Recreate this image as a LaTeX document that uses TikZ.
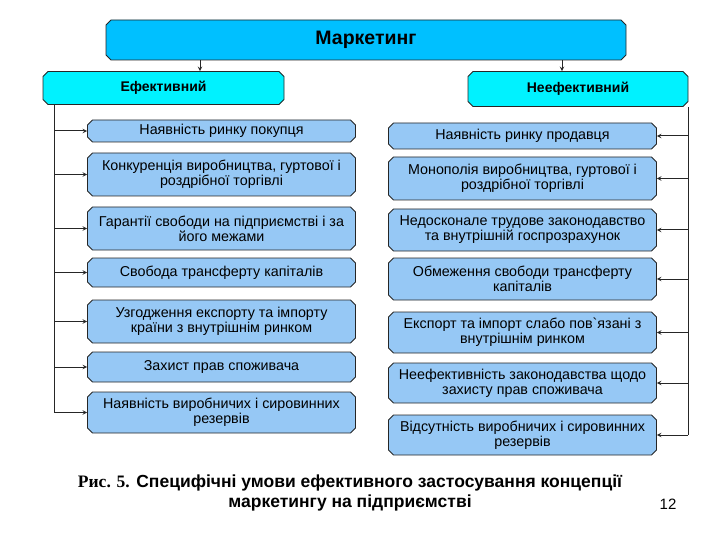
\documentclass[tikz,border=0pt]{standalone}
\usepackage{fontspec}
\setmainfont{Liberation Sans}[Ligatures=TeXOff]
\newfontface\captionserif{Liberation Serif Bold}
\usetikzlibrary{positioning,shapes.misc}

\definecolor{marketBlue}{RGB}{0,192,255}
\definecolor{branchCyan}{RGB}{0,242,255}
\definecolor{factorBlue}{RGB}{150,200,245}

\tikzset{
  plaque/.style={chamfered rectangle, chamfered rectangle xsep=2.5pt,
    chamfered rectangle ysep=2.5pt, draw=black!85, line width=0.8pt,
    align=center, inner sep=1pt},
  headBox/.style={plaque, fill=marketBlue,
    font=\fontsize{19.5}{22}\selectfont\bfseries},
  branchBox/.style={plaque, fill=branchCyan,
    font=\fontsize{14}{16}\selectfont\bfseries},
  factorBox/.style={plaque, fill=factorBlue, minimum width=268pt,
    font=\fontsize{14.3}{15}\selectfont},
  feed/.style={->, >=stealth, line width=1pt, black!85},
  bus/.style={line width=1pt, black!85}
}

\begin{document}
\begin{tikzpicture}[x=1pt, y=-1pt]
  \useasboundingbox (0,0) rectangle (720,540);

  \node[headBox, minimum width=520pt, minimum height=40pt] (marketing) at (366,40) {Маркетинг};
  \node[branchBox, minimum width=241pt, minimum height=33pt] (effective) at (163.5,88) {Ефективний};
  \node[branchBox, minimum width=220pt, minimum height=35pt] (ineffective) at (578,89) {Неефективний};

  \coordinate (leftDrop) at (200,0);
  \coordinate (rightDrop) at (562,0);
  \draw[feed] (marketing.south -| leftDrop) -- (effective.north -| leftDrop);
  \draw[feed] (marketing.south -| rightDrop) -- (ineffective.north -| rightDrop);

  % left column
  \node[factorBox, minimum height=22pt] (effOne) at (221.5,131) {Наявність ринку покупця};
  \node[factorBox, minimum height=43pt] (effTwo) at (221.5,174.5) {Конкуренція виробництва, гуртової і\\роздрібної торгівлі};
  \node[factorBox, minimum height=43pt] (effThree) at (221.5,228.5) {Гарантії свободи на підприємстві і за\\його межами};
  \node[factorBox, minimum height=29pt] (effFour) at (221.5,272.5) {Свобода трансферту капіталів};
  \node[factorBox, minimum height=43pt] (effFive) at (221.5,321.5) {Узгодження експорту та імпорту\\країни з внутрішнім ринком};
  \node[factorBox, minimum height=30pt] (effSix) at (221.5,367) {Захист прав споживача};
  \node[factorBox, minimum height=41pt] (effSeven) at (221.5,412.5) {Наявність виробничих і сировинних\\резервів};

  % right column
  \node[factorBox, minimum height=26pt] (ineOne) at (522.5,136) {Наявність ринку продавця};
  \node[factorBox, minimum height=43pt] (ineTwo) at (522.5,178.5) {Монополія виробництва, гуртової і\\роздрібної торгівлі};
  \node[factorBox, minimum height=42pt] (ineThree) at (522.5,230) {Недосконале трудове законодавство\\та внутрішній госпрозрахунок};
  \node[factorBox, minimum height=42pt] (ineFour) at (522.5,279) {Обмеження свободи трансферту\\капіталів};
  \node[factorBox, minimum height=41pt] (ineFive) at (522.5,332.5) {Експорт та імпорт слабо пов`язані з\\внутрішнім ринком};
  \node[factorBox, minimum height=40pt] (ineSix) at (522.5,383) {Неефективність законодавства щодо\\захисту прав споживача};
  \node[factorBox, minimum height=40pt] (ineSeven) at (522.5,435) {Відсутність виробничих і сировинних\\резервів};

  \coordinate (leftBus) at (54,0);
  \draw[bus] (effective.south -| leftBus) -- (effSeven.west -| leftBus);
  \draw[feed] (effOne.west -| leftBus) -- (effOne.west);
  \draw[feed] (effTwo.west -| leftBus) -- (effTwo.west);
  \draw[feed] (effThree.west -| leftBus) -- (effThree.west);
  \draw[feed] (effFour.west -| leftBus) -- (effFour.west);
  \draw[feed] (effFive.west -| leftBus) -- (effFive.west);
  \draw[feed] (effSix.west -| leftBus) -- (effSix.west);
  \draw[feed] (effSeven.west -| leftBus) -- (effSeven.west);

  \coordinate (rightBus) at (688,0);
  \draw[bus] (ineffective.south -| rightBus) -- (ineSeven.east -| rightBus);
  \draw[feed] (ineOne.east -| rightBus) -- (ineOne.east);
  \draw[feed] (ineTwo.east -| rightBus) -- (ineTwo.east);
  \draw[feed] (ineThree.east -| rightBus) -- (ineThree.east);
  \draw[feed] (ineFour.east -| rightBus) -- (ineFour.east);
  \draw[feed] (ineFive.east -| rightBus) -- (ineFive.east);
  \draw[feed] (ineSix.east -| rightBus) -- (ineSix.east);
  \draw[feed] (ineSeven.east -| rightBus) -- (ineSeven.east);

  \node[font=\fontsize{17.5}{20}\selectfont\bfseries, align=center] (caption) at (350,493)
    {{\captionserif Рис. 5.} Специфічні умови ефективного застосування концепції\\маркетингу на підприємстві};
  \node[font=\fontsize{15}{17}\selectfont] (pageNum) at (668,504) {12};
\end{tikzpicture}
\end{document}
